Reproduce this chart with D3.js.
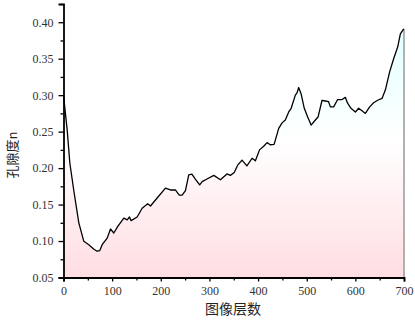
<!DOCTYPE html>
<html><head><meta charset="utf-8">
<script src="https://cdn.jsdelivr.net/npm/d3@7"></script>
<style>html,body{margin:0;padding:0;background:#fff;}svg{display:block;}</style>
</head><body><svg id="c" width="415" height="321"></svg>
<script>
const layers = [0,7.6,13,21,31.5,41.8,52,62,69,74.6,79.5,89.8,96.6,103.4,111.6,124,131,135.6,139,151.4,161.7,173,178.8,192.5,209.6,219.8,230,238,244,250.7,257.5,264,271,280,285,295,309,322.6,336,343,351,358,367,377,387.7,394.5,403,411.5,418.5,425,433,442.4,449.4,456,463,468,476.7,480,483.5,488.4,495,502,509,517.8,523.3,531.5,538,545,548.6,555.4,563.6,572.6,579.4,584,591,600,606.8,613.7,620.5,629.4,637.6,645.8,654.8,661.6,670.5,678.7,687,692.5,699.3];
const porosity = [0.300,0.252,0.207,0.170,0.125,0.0996,0.095,0.089,0.086,0.087,0.095,0.104,0.1165,0.111,0.120,0.1315,0.129,0.133,0.128,0.133,0.145,0.151,0.148,0.159,0.1725,0.170,0.170,0.163,0.163,0.169,0.1907,0.1916,0.185,0.177,0.1815,0.185,0.190,0.184,0.192,0.190,0.194,0.204,0.211,0.203,0.2135,0.210,0.225,0.230,0.235,0.232,0.2325,0.2545,0.262,0.266,0.277,0.282,0.300,0.303,0.3105,0.302,0.282,0.270,0.259,0.266,0.270,0.293,0.292,0.291,0.284,0.284,0.294,0.294,0.297,0.289,0.282,0.277,0.282,0.2785,0.275,0.284,0.2895,0.293,0.2955,0.307,0.332,0.350,0.366,0.384,0.391];
const xTicks = [0,100,200,300,400,500,600,700];
const yTicks = [0.05,0.10,0.15,0.20,0.25,0.30,0.35,0.40];
const xLabel = "图像层数";
const yLabel = "孔隙度n";

const svg = d3.select("#c");
const x = d3.scaleLinear().domain([0,700]).range([63.5,404]);
const y = d3.scaleLinear().domain([0.05,0.425]).range([277.5,4]);
const data = layers.map((l,i)=>({l, p:porosity[i]}));

const defs = svg.append("defs");
const g = defs.append("linearGradient").attr("id","fillg").attr("gradientUnits","userSpaceOnUse")
  .attr("x1",0).attr("x2",0).attr("y1",y(0.39)).attr("y2",y(0.05));
g.append("stop").attr("offset","0%").attr("stop-color","#e2ffff");
g.append("stop").attr("offset","45%").attr("stop-color","#ffffff");
g.append("stop").attr("offset","100%").attr("stop-color","#ffdde2");

svg.append("path").datum(data)
  .attr("d", d3.area().x(d=>x(d.l)).y0(y(0.05)).y1(d=>y(d.p)))
  .attr("fill","url(#fillg)");
svg.append("line").attr("x1",x(700)).attr("x2",x(700))
  .attr("y1",y(porosity[porosity.length-1])).attr("y2",y(0.05))
  .attr("stroke","#999").attr("stroke-width",1.5);
svg.append("path").datum(data)
  .attr("d", d3.line().x(d=>x(d.l)).y(d=>y(d.p)))
  .attr("fill","none").attr("stroke","#000").attr("stroke-width",1.3).attr("stroke-linejoin","round");

const numFont = "'Liberation Serif','DejaVu Serif',serif";
// x axis
const xa = svg.append("g").attr("transform",`translate(0,${y(0.05)})`)
  .call(d3.axisBottom(x).tickValues(xTicks).tickFormat(d3.format("d")).tickSize(4).tickPadding(5));
const xm = svg.append("g").attr("transform",`translate(0,${y(0.05)})`)
  .call(d3.axisBottom(x).tickValues(d3.range(50,700,100)).tickFormat("").tickSize(3));
xm.select(".domain").remove();
// y axis
const ya = svg.append("g").attr("transform",`translate(${x(0)},0)`)
  .call(d3.axisLeft(y).tickValues(yTicks).tickFormat(d3.format(".2f")).tickSize(5).tickPadding(5));
const ym = svg.append("g").attr("transform",`translate(${x(0)},0)`)
  .call(d3.axisLeft(y).tickValues(d3.range(0.075,0.43,0.05)).tickFormat("").tickSize(3));
ym.select(".domain").remove();
[xa,ya].forEach(a=>{
  a.select(".domain").attr("stroke","#000").attr("stroke-width",1.8);
  a.selectAll(".tick text").attr("font-family",numFont).attr("font-size",12).attr("fill","#333");
});
[xa,xm,ya,ym].forEach(a=>a.selectAll(".tick line").attr("stroke","#000").attr("stroke-width",1.3));

svg.append("text").attr("x",233).attr("y",314).attr("text-anchor","middle")
  .attr("font-family","'Noto Sans CJK SC',sans-serif").attr("font-size",14).attr("fill","#222").text(xLabel);
svg.append("text").attr("transform","translate(17,155) rotate(-90)").attr("text-anchor","middle")
  .attr("font-family","'Noto Sans CJK SC',sans-serif").attr("font-size",13).attr("fill","#222").text(yLabel);
</script></body></html>
